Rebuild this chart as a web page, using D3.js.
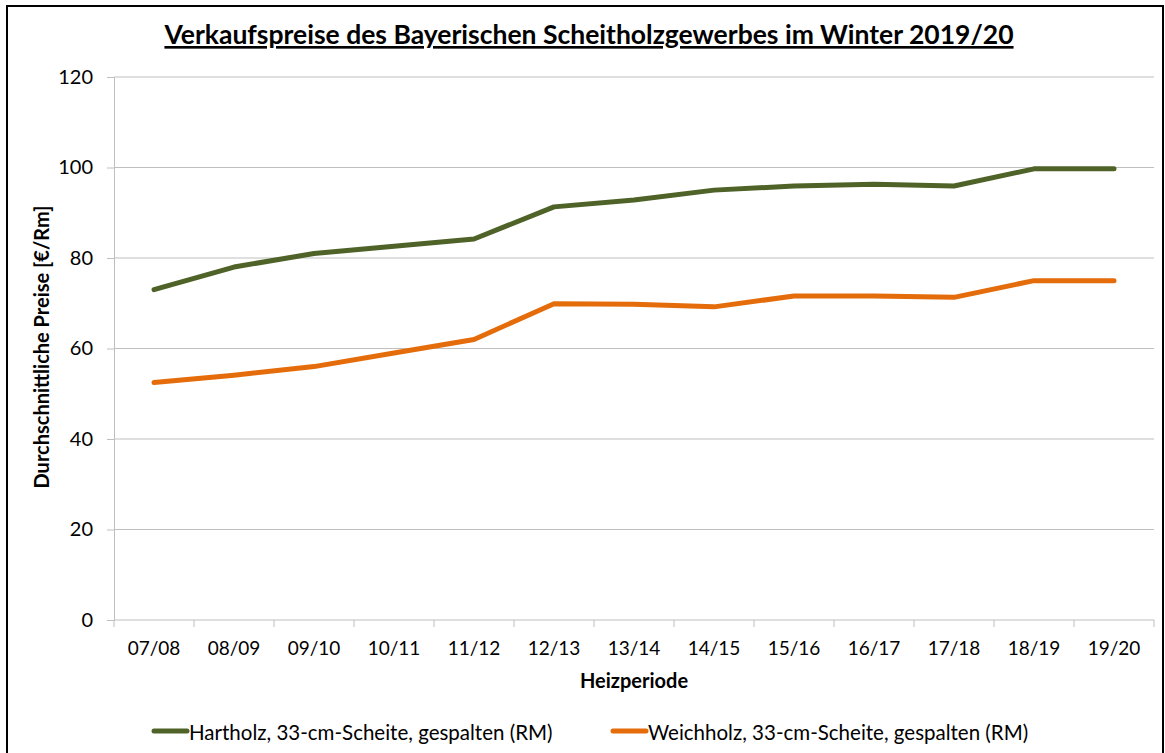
<!DOCTYPE html>
<html>
<head>
<meta charset="utf-8">
<script src="https://cdn.jsdelivr.net/npm/d3@7"></script>
<style>
  body { margin: 0; background: #fff; }
  text { font-family: Lato, "Open Sans", sans-serif; fill: #000; }
</style>
</head>
<body>
<svg></svg>
<script>
var svg = d3.select('svg');

var width = 1165;
var height = 753;

svg.attr("width", width).attr("height", height);

var periods = ["07/08", "08/09", "09/10", "10/11", "11/12", "12/13", "13/14",
               "14/15", "15/16", "16/17", "17/18", "18/19", "19/20"];
var hartholz = [73, 78, 81, 82.6, 84.2, 91.3, 92.8, 95, 95.9, 96.3, 95.9, 99.7, 99.7];
var weichholz = [52.5, 54.1, 56, 59, 62, 69.9, 69.8, 69.2, 71.6, 71.6, 71.3, 75, 75];
var yTicks = [0, 20, 40, 60, 80, 100, 120];

var seriesNames = ["Hartholz, 33-cm-Scheite, gespalten (RM)", "Weichholz, 33-cm-Scheite, gespalten (RM)"];
var seriesColors = ["#4f6228", "#e46c0a"];

var margin = { "top": 77, "right": 11, "bottom": 133, "left": 114 };

// outer frame
svg.append("rect")
   .attr("x", 7).attr("y", 6)
   .attr("width", 1156).attr("height", 760)
   .attr("fill", "none")
   .attr("stroke", "#000")
   .attr("stroke-width", 2);

var scaleX = d3.scaleBand()
               .domain(periods)
               .range([margin.left, width - margin.right]);

var scaleY = d3.scaleLinear()
               .domain([0, 120])
               .range([height - margin.bottom, margin.top]);

// gridlines
svg.selectAll(".grid")
   .data(yTicks.slice(1))
   .enter()
   .append("line")
   .attr("x1", margin.left)
   .attr("x2", width - margin.right)
   .attr("y1", function(d){ return scaleY(d) })
   .attr("y2", function(d){ return scaleY(d) })
   .attr("stroke", "#bfbfbf")
   .attr("stroke-width", 1);

// y axis
var yAxis = svg.append("g")
   .attr("transform", "translate(" + margin.left + ",0)")
   .call(d3.axisLeft(scaleY).tickValues(yTicks).tickSize(7).tickPadding(14));
yAxis.selectAll("line, path").attr("stroke", "#bfbfbf");
yAxis.selectAll("text").style("font-size", "20px").style("font-family", "Lato, sans-serif").attr("fill", "#000");

// x axis with ticks between categories
var xAxis = svg.append("g")
   .attr("transform", "translate(0," + scaleY(0) + ")");
xAxis.append("line")
   .attr("x1", margin.left).attr("x2", width - margin.right)
   .attr("stroke", "#bfbfbf");
var bounds = periods.map(function(p){ return scaleX(p) }).concat([width - margin.right]);
xAxis.selectAll(".xt")
   .data(bounds)
   .enter()
   .append("line")
   .attr("x1", function(d){ return d }).attr("x2", function(d){ return d })
   .attr("y1", 0).attr("y2", 7)
   .attr("stroke", "#bfbfbf");
xAxis.selectAll(".xl")
   .data(periods)
   .enter()
   .append("text")
   .attr("x", function(d){ return scaleX(d) + scaleX.bandwidth() / 2 })
   .attr("y", 35)
   .attr("text-anchor", "middle")
   .style("font-size", "19px")
   .text(function(d){ return d });

// lines
var line = d3.line()
   .x(function(d, i){ return scaleX(periods[i]) + scaleX.bandwidth() / 2 })
   .y(function(d){ return scaleY(d) });

[hartholz, weichholz].forEach(function(vals, k) {
  svg.append("path")
     .datum(vals)
     .attr("d", line)
     .attr("fill", "none")
     .attr("stroke", seriesColors[k])
     .attr("stroke-width", 5)
     .attr("stroke-linejoin", "round")
     .attr("stroke-linecap", "round");
});

// title
svg.append("text")
   .attr("x", 589).attr("y", 44)
   .attr("text-anchor", "middle")
   .style("font-size", "26.5px")
   .style("font-weight", "bold")
   .style("text-decoration", "underline")
   .text("Verkaufspreise des Bayerischen Scheitholzgewerbes im Winter 2019/20");

// axis titles
svg.append("text")
   .attr("transform", "translate(49,347) rotate(-90)")
   .attr("text-anchor", "middle")
   .style("font-size", "20px")
   .style("font-weight", "bold")
   .text("Durchschnittliche Preise [€/Rm]");

svg.append("text")
   .attr("x", 634).attr("y", 688)
   .attr("text-anchor", "middle")
   .style("font-size", "20px")
   .style("font-weight", "bold")
   .text("Heizperiode");

// legend
var legendX = [154, 613];
var legend = svg.selectAll(".legend")
   .data(seriesNames)
   .enter()
   .append("g")
   .attr("transform", function(d, i){ return "translate(" + legendX[i] + ",731)" });
legend.append("line")
   .attr("x1", 0).attr("x2", 33)
   .attr("stroke", function(d, i){ return seriesColors[i] })
   .attr("stroke-width", 5)
   .attr("stroke-linecap", "round");
legend.append("text")
   .attr("x", 35).attr("y", 9)
   .style("font-size", "20.5px")
   .text(function(d){ return d });
</script>
</body>
</html>
